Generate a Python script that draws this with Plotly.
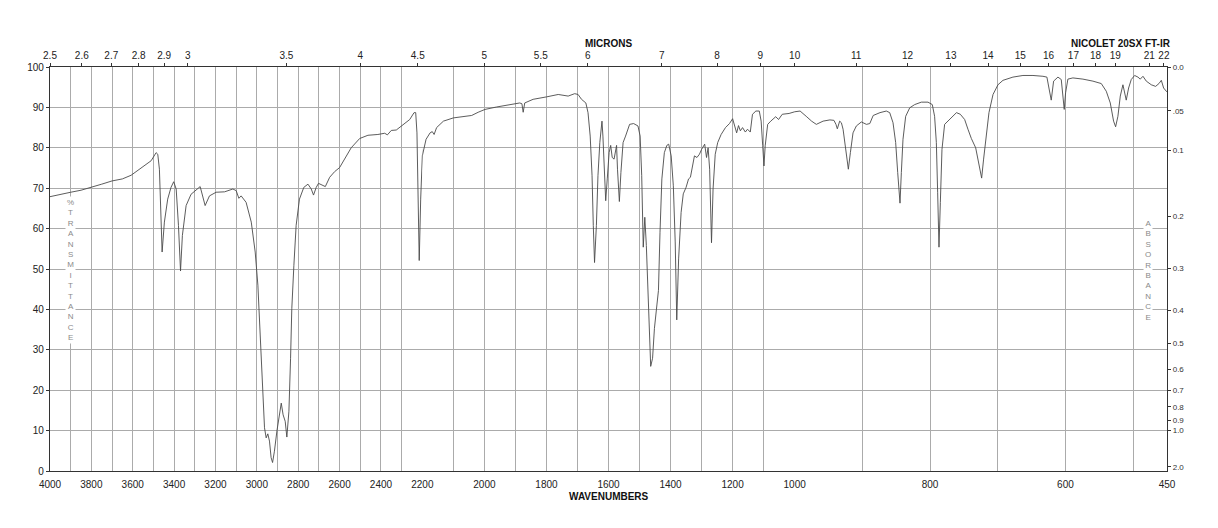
import plotly.graph_objects as go

# ---------------- data ----------------
wavenumbers = [
    4000, 3950, 3900, 3850, 3800, 3750, 3700, 3650, 3608, 3544, 3511, 3487, 3479, 3471,
    3463, 3458, 3447, 3431, 3415, 3402, 3390, 3379, 3369, 3360, 3342, 3318, 3274, 3261,
    3250, 3229, 3197, 3156, 3116, 3100, 3087, 3076, 3052, 3027, 3008, 2995, 2987, 2979,
    2971, 2963, 2955, 2947, 2939, 2931, 2924, 2915, 2903, 2894, 2882, 2873, 2863, 2855,
    2845, 2837, 2831, 2821, 2810, 2794, 2773, 2753, 2737, 2726, 2713, 2702, 2681, 2669,
    2648, 2624, 2600, 2576, 2544, 2503, 2463, 2415, 2382, 2369, 2350, 2326, 2294, 2261,
    2240, 2232, 2226, 2221, 2215, 2208, 2200, 2188, 2175, 2168, 2162, 2154, 2132, 2100,
    2068, 2041, 2020, 1998, 1961, 1918, 1886, 1879, 1875, 1870, 1843, 1800, 1762, 1730,
    1709, 1698, 1687, 1673, 1666, 1659, 1653, 1649, 1645, 1639, 1634, 1628, 1621, 1618,
    1613, 1609, 1604, 1598, 1593, 1588, 1582, 1578, 1574, 1571, 1565, 1560, 1553, 1545,
    1532, 1519, 1505, 1498, 1493, 1488, 1483, 1478, 1473, 1468, 1464, 1458, 1452, 1444,
    1439, 1434, 1428, 1420, 1412, 1406, 1398, 1391, 1385, 1380, 1374, 1366, 1359, 1350,
    1342, 1336, 1329, 1323, 1315, 1307, 1300, 1290, 1284, 1279, 1274, 1268, 1263, 1256,
    1248, 1237, 1223, 1210, 1200, 1193, 1187, 1181, 1175, 1168, 1159, 1152, 1143, 1136,
    1125, 1114, 1108, 1103, 1099, 1095, 1087, 1077, 1061, 1052, 1040, 1018, 1000, 992,
    983, 975, 968, 958, 948, 942, 939, 937, 933.5, 931, 928.5, 926, 923.5, 920.7,
    917.7, 913.8, 908.9, 901.5, 894, 889, 884, 874, 864.6, 859.6, 854.7, 850.8, 847.8, 845.9,
    844.4, 842.4, 840, 836, 830, 822.7, 812.9, 803.1, 796.7, 793.3, 790.7, 788.8, 786.8, 784.8,
    782.4, 778.5, 771, 761, 755.3, 748.9, 744, 739, 732.6, 729.2, 726.2, 723.8, 720.9, 716.9,
    713, 707, 699.7, 692.3, 677.6, 662.8, 648, 633.3, 627.4, 624.4, 621, 617.5, 611.1, 606.2,
    603.7, 601.8, 599.8, 596.4, 589, 574.2, 559.4, 547.1, 539.7, 533.8, 528.9, 525.9, 522.5, 519,
    515.1, 512.6, 510.2, 506.7, 502.8, 497.8, 492.9, 489.5, 485.5, 480.6, 473.2, 466.8, 461.9, 458.4,
    455, 451, 450,
]
transmittance = [
    67.9, 68.5, 69.0, 69.5, 70.2, 71.0, 71.8, 72.3, 73.2, 75.5, 76.8, 78.8, 78.4, 74.7,
    60.8, 54.2, 61.6, 67.3, 70.2, 71.6, 69.8, 60.8, 49.5, 58.3, 65.7, 68.5, 70.4, 68.1,
    65.7, 68.1, 69.0, 69.1, 69.8, 69.4, 67.5, 68.1, 66.5, 61.6, 54.2, 46.0, 36.1, 27.9,
    19.7, 10.7, 8.2, 9.2, 7.4, 3.3, 2.1, 4.9, 9.9, 13.1, 16.8, 13.9, 12.3, 8.4,
    14.8, 27.9, 40.2, 50.9, 60.8, 67.3, 70.2, 71.0, 69.8, 68.3, 70.2, 71.2, 70.8, 70.4,
    72.7, 74.1, 75.1, 77.2, 80.0, 82.3, 83.1, 83.3, 83.6, 83.2, 84.3, 84.4, 85.6, 87.0,
    88.7, 88.7, 83.7, 64.9, 52.1, 67.3, 78.0, 82.1, 83.7, 84.0, 83.3, 85.0, 86.6, 87.4,
    87.7, 88.0, 88.8, 89.5, 90.1, 90.7, 91.1, 90.9, 88.8, 91.1, 92.0, 92.6, 93.2, 92.8,
    93.4, 93.2, 92.0, 91.1, 88.7, 82.9, 73.1, 60.8, 51.6, 60.8, 73.1, 81.3, 86.6, 82.9,
    73.1, 66.9, 72.3, 78.8, 80.6, 77.6, 77.2, 78.8, 80.6, 74.7, 66.7, 73.9, 81.3, 82.9,
    85.8, 86.0, 85.4, 82.9, 73.1, 55.4, 62.8, 55.8, 44.3, 31.2, 25.9, 27.9, 35.3, 41.1,
    44.7, 59.1, 72.3, 78.8, 80.6, 80.9, 78.0, 70.6, 56.7, 37.4, 52.5, 64.0, 68.6, 70.2,
    72.3, 72.7, 75.5, 78.0, 77.6, 78.4, 79.6, 80.9, 77.6, 80.0, 74.7, 56.5, 69.8, 78.4,
    81.3, 83.3, 85.0, 86.0, 87.2, 85.4, 83.7, 85.5, 84.2, 85.0, 83.9, 84.6, 83.9, 88.3,
    89.1, 89.1, 86.6, 80.5, 75.5, 80.5, 85.8, 86.6, 87.7, 87.0, 88.3, 88.5, 88.9, 89.1,
    87.8, 86.6, 85.8, 86.6, 86.9, 86.8, 85.8, 84.7, 86.6, 86.2, 84.6, 81.3, 77.2, 74.7,
    78.8, 83.7, 85.4, 86.4, 85.8, 86.0, 88.0, 88.7, 89.1, 88.7, 86.2, 81.3, 73.9, 69.0,
    66.3, 73.9, 82.1, 87.8, 89.9, 90.7, 91.3, 91.3, 90.7, 87.8, 81.3, 69.0, 55.4, 66.5,
    79.6, 85.8, 87.0, 88.7, 88.3, 87.0, 84.6, 82.3, 80.0, 77.2, 73.9, 72.5, 77.2, 83.7,
    88.7, 93.2, 95.6, 96.7, 97.5, 97.9, 97.9, 97.7, 97.5, 94.8, 91.8, 96.5, 97.5, 96.9,
    92.8, 89.5, 93.6, 97.0, 97.3, 97.0, 96.5, 95.9, 94.0, 91.1, 86.6, 85.2, 87.8, 92.8,
    95.6, 93.6, 91.8, 94.8, 96.9, 97.9, 97.5, 97.0, 97.7, 96.5, 95.6, 95.2, 95.9, 96.7,
    94.8, 94.0, 93.8,
]

# x-axis segments (wavenumber ranges, each drawn with its own linear scale)
segments = [(4000, 2200), (2200, 1000), (1000, 450)]
labelled_wavenumbers = [
    [4000, 3800, 3600, 3400, 3200, 3000, 2800, 2600, 2400, 2200],
    [2000, 1800, 1600, 1400, 1200, 1000],
    [800, 600, 450],
]
grid_wavenumbers = [
    list(range(4000, 2199, -100)),
    list(range(2200, 999, -100)),
    list(range(1000, 449, -100)) + [450],
]
micron_labels = [
    ["2.5", "2.6", "2.7", "2.8", "2.9", "3", "3.5", "4", "4.5"],
    ["5", "5.5", "6", "7", "8", "9", "10"],
    ["11", "12", "13", "14", "15", "16", "17", "18", "19", "21", "22"],
]
absorbance_labels = ["0.0", ".05", "0.1", "0.2", "0.3", "0.4", "0.5", "0.6",
                     "0.7", "0.8", "0.9", "1.0", "2.0"]
absorbance_values = [0.0, 0.05, 0.1, 0.2, 0.3, 0.4, 0.5, 0.6, 0.7, 0.8, 0.9, 1.0, 2.0]

FONT = "Liberation Sans, Arial, sans-serif"
GRID = "#ababab"
AXIS = "#333333"

fig = go.Figure()
for i in range(3):
    xa = "x" if i == 0 else f"x{i + 1}"
    fig.add_trace(go.Scatter(
        x=wavenumbers, y=transmittance, xaxis=xa, yaxis="y", mode="lines",
        line=dict(color="#4a4a4a", width=0.9), showlegend=False, hoverinfo="skip",
    ))

layout = dict(
    width=1218, height=528,
    margin=dict(l=50, r=51, t=67, b=57),
    paper_bgcolor="white", plot_bgcolor="white",
    font=dict(family=FONT, size=10, color="#222"),
    showlegend=False,
)

for i, (hi, lo) in enumerate(segments):
    key = "xaxis" if i == 0 else f"xaxis{i + 1}"
    labels = set(labelled_wavenumbers[i])
    layout[key] = dict(
        domain=[i / 3, (i + 1) / 3], range=[hi, lo], anchor="y",
        tickmode="array", tickvals=grid_wavenumbers[i],
        ticktext=[str(v) if v in labels else "" for v in grid_wavenumbers[i]],
        showgrid=True, gridcolor=GRID, gridwidth=1, zeroline=False,
        showline=True, linecolor=AXIS, linewidth=1.2, ticks="",
        ticklabelstandoff=4, tickfont=dict(size=10, color="#222"),
    )
    top = f"xaxis{i + 4}"
    mvals = [float(m) for m in micron_labels[i]]
    layout[top] = dict(
        overlaying="x" if i == 0 else f"x{i + 1}", side="top", anchor="y",
        range=[hi, lo], tickmode="array",
        tickvals=[10000.0 / m for m in mvals], ticktext=micron_labels[i],
        showgrid=False, zeroline=False, showline=True, linecolor=AXIS, linewidth=1.2,
        ticks="outside", ticklen=3, tickcolor=AXIS, tickwidth=1,
        tickfont=dict(size=10, color="#222"),
    )

layout["yaxis"] = dict(
    range=[0, 100], anchor="x", tickmode="linear", tick0=0, dtick=10,
    showgrid=True, gridcolor=GRID, gridwidth=1, zeroline=False,
    showline=True, linecolor=AXIS, linewidth=1.2,
    ticks="outside", ticklen=3, tickcolor=AXIS, tickfont=dict(size=10, color="#222"),
)
layout["yaxis2"] = dict(
    overlaying="y", side="right", anchor="x3", range=[0, 100],
    tickmode="array", tickvals=[100 * 10 ** (-a) for a in absorbance_values],
    ticktext=absorbance_labels, showgrid=False, zeroline=False,
    showline=True, linecolor=AXIS, linewidth=1.2,
    ticks="outside", ticklen=3, tickcolor=AXIS, tickfont=dict(size=8, color="#333"),
)
fig.update_layout(**layout)

# empty traces so the overlay axes are registered
fig.add_trace(go.Scatter(x=[], y=[], xaxis="x4", yaxis="y", showlegend=False))
fig.add_trace(go.Scatter(x=[], y=[], xaxis="x5", yaxis="y", showlegend=False))
fig.add_trace(go.Scatter(x=[], y=[], xaxis="x6", yaxis="y", showlegend=False))
fig.add_trace(go.Scatter(x=[], y=[], xaxis="x3", yaxis="y2", showlegend=False))

annotations = [
    dict(text="<b>MICRONS</b>", x=0.5, y=1.057, xref="paper", yref="paper",
         xanchor="center", yanchor="middle",
         showarrow=False, font=dict(size=10, color="#111", family=FONT)),
    dict(text="<b>NICOLET 20SX FT-IR</b>", x=0.9588, y=1.057, xref="paper", yref="paper",
         xanchor="center", yanchor="middle",
         showarrow=False, font=dict(size=10, color="#111", family=FONT)),
    dict(text="<b>WAVENUMBERS</b>", x=0.5, y=-0.062, xref="paper", yref="paper",
         xanchor="center", yanchor="middle",
         showarrow=False, font=dict(size=10, color="#111", family=FONT)),
    dict(text="<br>".join(list("%TRANSMITTANCE")), x=0.0188, y=0.4975,
         xref="paper", yref="paper", xanchor="center", yanchor="middle",
         showarrow=False, bgcolor="white", borderpad=1,
         font=dict(size=8, color="#8a8a8a", family=FONT)),
    dict(text="<br>".join(list("ABSORBANCE")), x=0.9827, y=0.496,
         xref="paper", yref="paper", xanchor="center", yanchor="middle",
         showarrow=False, bgcolor="white", borderpad=1,
         font=dict(size=8, color="#8a8a8a", family=FONT)),
]
fig.update_layout(annotations=annotations)

fig.write_html("out.html")
